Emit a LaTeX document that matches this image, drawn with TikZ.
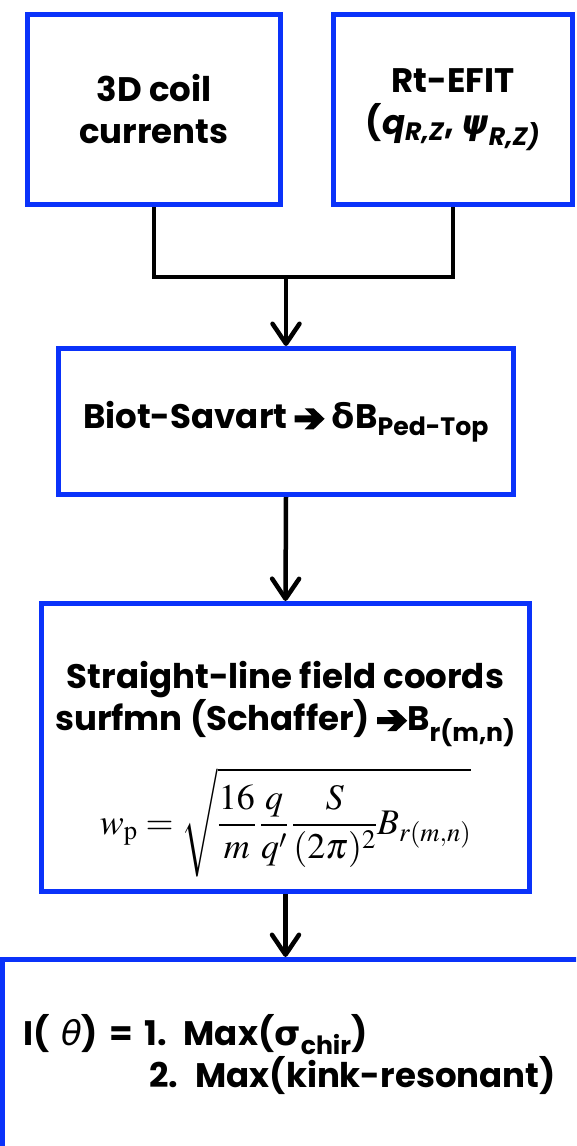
\documentclass[tikz,border=0pt]{standalone}
\usepackage{amsmath}
\usepackage{mathptmx}
\usepackage{fontspec}
\usetikzlibrary{arrows.meta,positioning}
\newfontfamily\gothic{Poppins}
\newfontfamily\greekfont{DejaVu Sans}
\definecolor{boxblue}{RGB}{10,50,250}
% heavy arrow used inside the texts
\newcommand{\fatarrow}{\tikz[reset cm,baseline=-9.5pt]\fill (0pt,3.5pt)--(17pt,3.5pt)--(10pt,10.5pt)--(19pt,10.5pt)--(30pt,0pt)--(19pt,-10.5pt)--(10pt,-10.5pt)--(17pt,-3.5pt)--(0pt,-3.5pt)--cycle;}

\begin{document}
\begin{tikzpicture}[x=1pt,y=-1pt,inner sep=0pt,
	block/.style={draw=boxblue,line width=5pt,rectangle,align=center,font=\gothic\bfseries\fontsize{34}{42}\selectfont},
	link/.style={line width=4.5pt,draw=black},
	flow/.style={link,-{Straight Barb[length=20pt,width=27pt,line width=4.5pt,round]}}]

	\useasboundingbox (0,0) rectangle (576,1146);
	\clip (0,0) rectangle (576,1146);

	\node at (154,109.5) [block,minimum width=253,minimum height=190] (coil) {3D coil\\currents};
	\node at (453,109.5) [block,minimum width=239,minimum height=190] (efit) {Rt-EFIT\\(\textit{q}\textsubscript{\textit{R,Z}}, {\greekfont\bfseries\itshape ψ}\textsubscript{\textit{R,Z)}}};
	\node at (286,421.5) [block,minimum width=455,minimum height=146] (biot) {Biot-Savart \fatarrow\ {\greekfont\bfseries δ}B\textsubscript{Ped-Top}};
	\node at (285.5,747.5) [block,minimum width=488,minimum height=288] (surf) {Straight-line field coords\\surfmn (Schaffer) \fatarrow B\textsubscript{r(m,n)}\\[20pt]
		\mdseries\fontsize{36}{40}\selectfont\raisebox{0pt}[\height][-6pt]{$\displaystyle w_{\mathrm{p}}=\sqrt{\frac{16}{m}\,\frac{q}{q'}\,\frac{S}{(2\pi)^2}B_{r(m,n)}}$}};
	\node at (300,1055) [block,minimum width=595,minimum height=191,align=left,text width=553] (kink) {I( {\greekfont\mdseries\itshape θ}) = 1. Max({\greekfont\bfseries σ}\textsubscript{chir})\\
		\hspace*{126pt}2. Max(kink-resonant)};

	\coordinate (join) at (286,277);

	\draw[link] (coil.south) |- (join) -| (efit.south);
	\draw[flow] (join) -- (biot.north);
	\draw[flow] (biot.south) -- (surf.north);
	\draw[flow] (surf.south) -- (surf.south |- kink.north);

\end{tikzpicture}
\end{document}
